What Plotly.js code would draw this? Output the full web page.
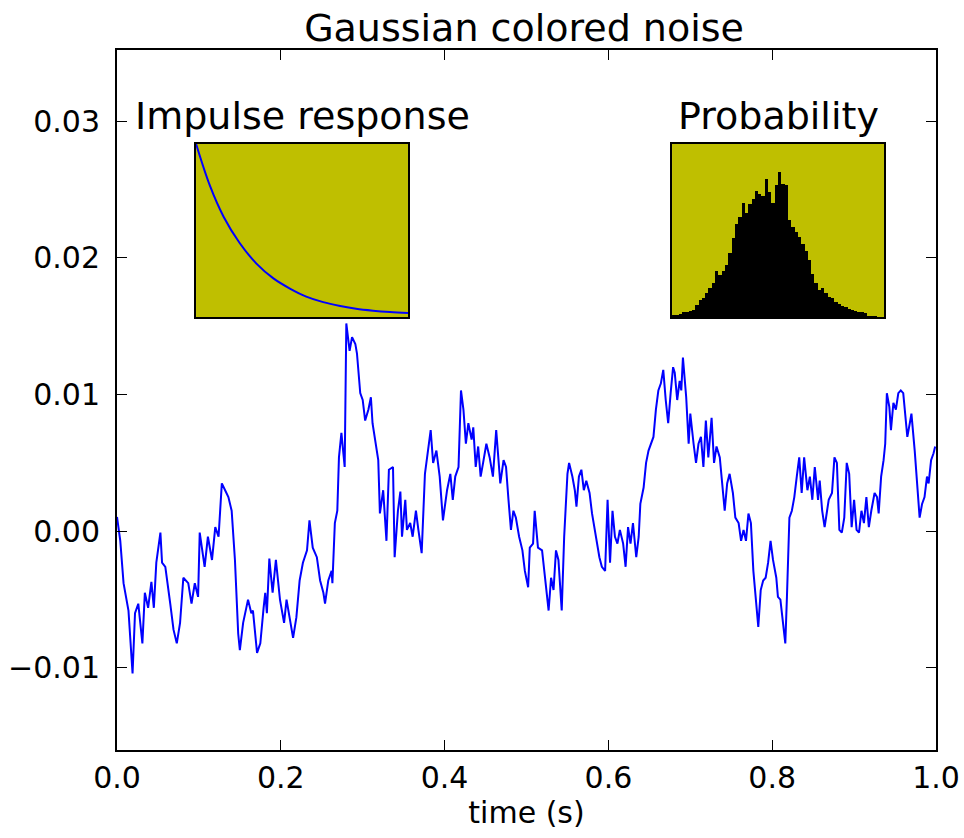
<!DOCTYPE html>
<html>
<head>
<meta charset="utf-8">
<script src="https://cdn.plot.ly/plotly-3.0.1.min.js"></script>
<style>html,body{margin:0;padding:0;background:#fff;}#chart{width:964px;height:838px;}</style>
</head>
<body>
<div id="chart"></div>
<script>
// Main signal: time (s) and colored noise value
const timeS = [0.000,0.004,0.008,0.014,0.019,0.022,0.026,0.031,0.034,0.038,0.042,0.045,0.048,0.053,0.055,0.059,0.065,0.069,0.073,0.077,0.081,0.087,0.091,0.095,0.099,0.101,0.107,0.111,0.116,0.120,0.124,0.128,0.132,0.136,0.140,0.144,0.148,0.150,0.154,0.160,0.164,
0.166,0.171,0.175,0.179,0.181,0.183,0.186,0.190,0.194,0.199,0.204,0.207,0.211,0.215,0.219,0.223,0.227,0.232,0.235,0.239,0.244,0.248,0.252,0.254,0.258,0.262,0.263,0.266,0.269,0.271,0.274,0.278,0.280,0.284,0.287,0.291,0.293,0.297,0.300,0.303,0.307,0.310,0.312,0.316,0.319,0.321,0.325,0.329,0.332,0.337,0.339,
0.343,0.346,0.348,0.352,0.354,0.358,0.361,0.365,0.368,0.372,0.376,0.380,0.383,0.386,0.390,0.394,0.398,0.403,0.407,0.410,0.413,0.417,0.420,0.423,0.426,0.429,0.433,0.435,0.438,0.441,0.444,0.447,0.451,0.455,0.459,0.463,0.466,0.468,0.472,0.475,0.478,0.481,0.484,0.487,0.491,0.495,0.498,0.502,0.504,0.508,0.510,
0.512,0.514,0.519,0.521,0.524,0.527,0.530,0.533,0.536,0.539,0.543,0.546,0.550,0.552,0.556,0.559,0.561,0.564,0.567,0.570,0.573,0.577,0.580,0.582,0.586,0.589,0.592,0.596,0.599,0.602,0.605,0.608,0.611,0.614,0.618,0.621,0.624,0.627,0.630,0.634,0.637,0.639,0.643,0.646,0.649,0.652,0.655,0.658,0.661,0.664,0.667,0.670,0.673,0.676,0.679,
0.681,0.684,0.687,0.689,0.691,0.695,0.698,0.700,0.704,0.707,0.710,0.713,0.716,0.719,0.722,0.726,0.729,0.732,0.736,0.740,0.742,0.745,0.748,0.752,0.755,0.759,0.762,0.765,0.768,0.771,0.774,0.777,0.780,0.783,0.786,0.789,0.792,0.795,0.798,0.801,0.805,0.807,0.810,0.814,0.816,0.818,0.821,0.824,0.827,0.830,0.833,0.836,0.839,
0.843,0.846,0.849,0.852,0.856,0.858,0.861,0.864,0.867,0.869,0.873,0.876,0.879,0.882,0.885,0.888,0.891,0.894,0.897,0.900,0.903,0.906,0.909,0.912,0.915,0.918,0.921,0.925,0.928,0.930,0.933,0.936,0.938,0.940,0.943,0.945,0.948,0.951,0.954,0.957,0.960,0.963,0.965,0.968,0.970,0.974,0.976,0.978,0.980,0.983,0.986,0.989,0.991,0.994,0.997,0.999];

const noise = [0.00105,-0.0007,-0.0038,-0.0058,-0.0104,-0.006,-0.0053,-0.0082,-0.0045,-0.0056,-0.0037,-0.0056,-0.0023,-0.0001,-0.0023,-0.0026,-0.0053,-0.0072,-0.0082,-0.0067,-0.0034,-0.0038,-0.0053,-0.0038,-0.0048,-0.0001,-0.0026,-0.0004,-0.0021,0.0003,-0.0004,0.0035,0.003,0.0025,0.0015,-0.0021,-0.0075,-0.0087,-0.0067,-0.005,-0.006,
-0.0058,-0.0089,-0.0082,-0.0056,-0.0045,-0.006,-0.002,-0.0045,-0.0021,-0.005,-0.0067,-0.005,-0.0063,-0.0078,-0.0063,-0.0036,-0.0023,-0.0014,0.0008,-0.0012,-0.0019,-0.0036,-0.0045,-0.0053,-0.0036,-0.0029,-0.0038,0.0006,0.0015,0.0054,0.0072,0.0047,0.0152,0.0132,0.0142,0.0137,0.013,0.0101,0.0096,0.0081,0.0089,0.0098,0.0079,0.0062,0.0052,0.0013,0.003,-0.0007,0.0045,0.0047,-0.0019,
0.0015,0.0029,-0.0004,0.0023,0.0001,0.0006,-0.0004,0.0015,0.0001,-0.0016,0.0042,0.0059,0.0074,0.005,0.0059,0.004,0.0008,0.003,0.0042,0.0023,0.004,0.0047,0.0103,0.0089,0.0064,0.0079,0.0067,0.0076,0.0047,0.0062,0.004,0.005,0.0064,0.0054,0.004,0.0074,0.005,0.0035,0.0052,0.0047,0.0023,0.0001,0.0015,0.001,-0.0004,-0.0014,-0.0029,-0.0041,-0.0012,-0.0009,0.0015,
0.0001,-0.0012,-0.0014,-0.0026,-0.0043,-0.0058,-0.0034,-0.0043,-0.0014,-0.0021,-0.0058,-0.0004,0.0042,0.005,0.004,0.003,0.0018,0.004,0.0045,0.003,0.0037,0.0028,0.0013,0.0006,-0.0007,-0.0019,-0.0026,-0.0029,0.0023,-0.0023,0.0015,-0.0004,-0.0009,0.0001,-0.0009,-0.0026,0.0003,-0.0009,0.0006,-0.0019,-0.0004,0.002,0.0032,0.005,0.0059,0.0064,0.0069,0.0089,0.0103,0.0108,0.0118,0.0096,0.0079,0.0101,0.012,
0.0116,0.0096,0.011,0.0103,0.0127,0.0098,0.0064,0.0086,0.0064,0.005,0.0064,0.0069,0.0047,0.0081,0.0054,0.0083,0.005,0.0062,0.0054,0.003,0.0015,0.0035,0.0042,0.0028,0.001,0.0006,-0.0007,0.0001,-0.0007,0.0013,0.0006,-0.0029,-0.0053,-0.007,-0.0043,-0.0036,-0.0034,-0.0023,-0.0007,-0.0021,-0.0034,-0.0048,-0.005,-0.0075,-0.0082,-0.0048,0.001,0.0015,0.0025,0.004,0.0054,0.0028,0.0054,
0.003,0.004,0.0023,0.0047,0.0023,0.0037,0.0015,0.0003,0.0015,0.0023,0.0028,0.0054,0.005,0.0001,-0.0001,0.001,0.005,0.0042,0.0003,0.0023,0.0001,-0.0001,0.0015,0.0006,0.0025,0.0003,0.0015,0.0028,0.0025,0.0013,0.004,0.0052,0.0064,0.0101,0.0091,0.0074,0.0094,0.0089,0.0101,0.0103,0.0101,0.0083,0.0069,0.0079,0.0086,0.0059,0.004,0.0025,0.001,0.002,0.0025,0.004,0.0035,0.0052,0.0057,0.0062];

// Main axis ticks
const xTickVals = [0.0, 0.2, 0.4, 0.6, 0.8, 1.0];
const xTickText = ["0.0", "0.2", "0.4", "0.6", "0.8", "1.0"];
const yTickVals = [-0.01, 0.0, 0.01, 0.02, 0.03];
const yTickText = ["\u22120.01", "0.00", "0.01", "0.02", "0.03"];

// Inset 1: impulse response (time, amplitude)
const impulseT = [0, 0.013, 0.026, 0.041, 0.057, 0.073, 0.089, 0.104, 0.12, 0.136, 0.151, 0.167, 0.183, 0.2];
const impulseR = [1.0, 0.76, 0.58, 0.43, 0.31, 0.225, 0.165, 0.12, 0.088, 0.066, 0.05, 0.039, 0.031, 0.025];

// Inset 2: probability histogram (bin heights, left to right)
const histMin = -0.0145, histMax = 0.0176;
const histHeights = [1.3,1.5,2,3,3.3,3.5,4,7,10,11,14,17,20,27,24.5,27,30,37,46,54,58,66,60,65.5,68,73,71,70,80,72,66,76,84,77,76,56,52,49,46.5,42,38,33,25,20,16,17,14,12,11,9,8,6.5,6,5,4,3.5,3,3,2.5,1,0.8,0.6,0.5,0.4];
const binW = (histMax - histMin) / histHeights.length;
const histCenters = histHeights.map((_, i) => histMin + (i + 0.5) * binW);

const FONT = "DejaVu Sans";
const YEL = "rgb(191,191,0)";

const traces = [
  {x: timeS, y: noise, type: "scatter", mode: "lines", line: {color: "#0000ff", width: 2}, xaxis: "x", yaxis: "y", hoverinfo: "skip"},
  {x: impulseT, y: impulseR, type: "scatter", mode: "lines", line: {color: "#0000ff", width: 2, shape: "spline"}, xaxis: "x2", yaxis: "y2", hoverinfo: "skip"},
  {x: histCenters, y: histHeights, type: "bar", width: binW, marker: {color: "#000", line: {width: 0}}, xaxis: "x3", yaxis: "y3", hoverinfo: "skip"}
];

const frame = {showline: true, linecolor: "#000", linewidth: 2, mirror: true, showgrid: false, zeroline: false, showticklabels: false, ticks: ""};

const layout = {
  width: 964, height: 838,
  margin: {l: 117, r: 28, t: 50, b: 88},
  paper_bgcolor: "#fff", plot_bgcolor: "rgba(0,0,0,0)",
  showlegend: false,
  bargap: 0,
  font: {family: FONT, color: "#000"},
  title: {text: "Gaussian colored noise", font: {family: FONT, size: 38, color: "#000"}, x: 0.497, xanchor: "center", xref: "paper", y: 1, yref: "paper", yanchor: "bottom", pad: {b: 9}},
  xaxis: {domain: [0, 1], range: [0, 1], tickvals: xTickVals, ticktext: xTickText, ticks: "inside", ticklen: 10, tickwidth: 1, tickcolor: "#000", mirror: "ticks", showline: true, linecolor: "#000", linewidth: 2, showgrid: false, zeroline: false, tickfont: {family: FONT, size: 30, color: "#000"}, ticklabelstandoff: 0, title: {text: "time (s)", font: {family: FONT, size: 30, color: "#000"}, standoff: 6}},
  yaxis: {domain: [0, 1], range: [-0.016, 0.0352], tickvals: yTickVals, ticktext: yTickText, ticks: "inside", ticklen: 10, tickwidth: 1, tickcolor: "#000", mirror: "ticks", showline: true, linecolor: "#000", linewidth: 2, showgrid: false, zeroline: false, tickfont: {family: FONT, size: 30, color: "#000"}, ticklabelstandoff: 9},
  xaxis2: Object.assign({domain: [0.0965, 0.3553], range: [0, 0.2], anchor: "y2"}, frame),
  yaxis2: Object.assign({domain: [0.618, 0.866], range: [0, 1], anchor: "x2"}, frame),
  xaxis3: Object.assign({domain: [0.6777, 0.9365], range: [histMin, histMax], anchor: "y3"}, frame),
  yaxis3: Object.assign({domain: [0.618, 0.866], range: [0, 100], anchor: "x3"}, frame),
  shapes: [
    {type: "rect", xref: "x2 domain", yref: "y2 domain", x0: 0, x1: 1, y0: 0, y1: 1, fillcolor: YEL, line: {width: 0}, layer: "below"},
    {type: "rect", xref: "x3 domain", yref: "y3 domain", x0: 0, x1: 1, y0: 0, y1: 1, fillcolor: YEL, line: {width: 0}, layer: "below"}
  ],
  annotations: [
    {text: "Impulse response", xref: "x2 domain", yref: "y2 domain", x: 0.5, y: 1, xanchor: "center", yanchor: "bottom", yshift: 4, showarrow: false, font: {family: FONT, size: 38, color: "#000"}},
    {text: "Probability", xref: "x3 domain", yref: "y3 domain", x: 0.5, y: 1, xanchor: "center", yanchor: "bottom", yshift: 4, showarrow: false, font: {family: FONT, size: 38, color: "#000"}}
  ]
};

Plotly.newPlot("chart", traces, layout, {displayModeBar: false, staticPlot: true});
</script>
</body>
</html>
